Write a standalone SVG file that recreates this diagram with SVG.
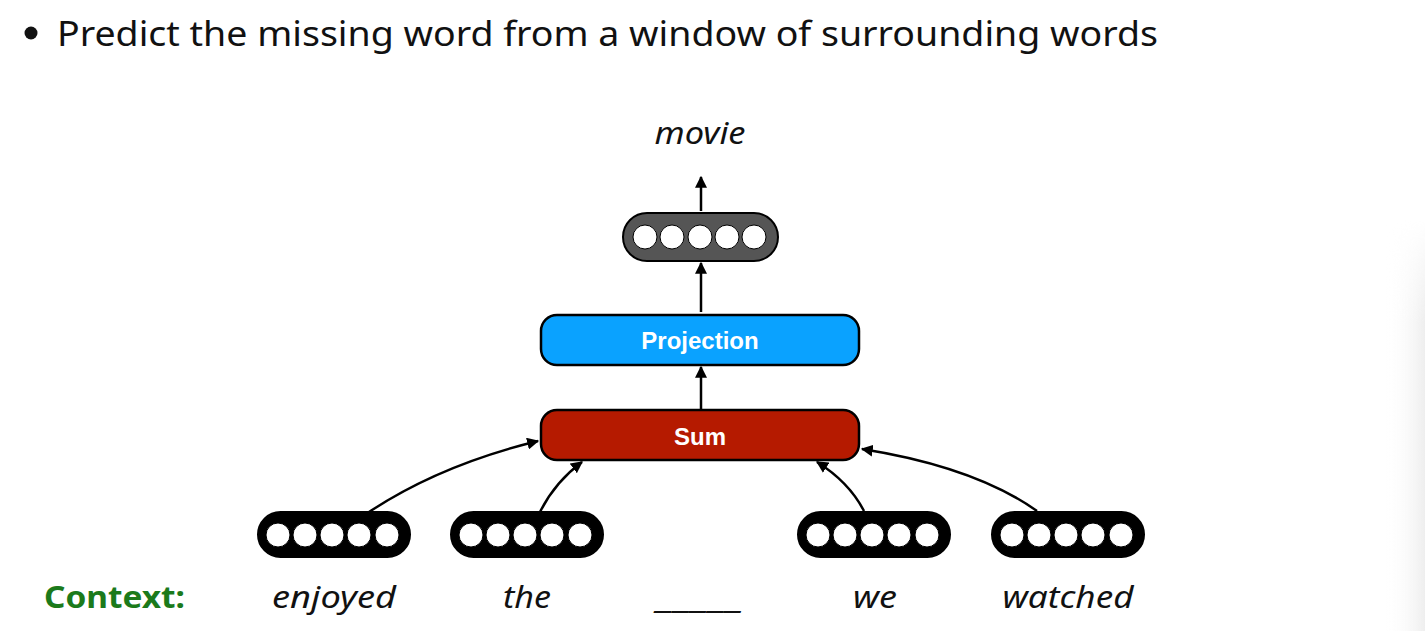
<svg xmlns="http://www.w3.org/2000/svg" width="1425" height="631" viewBox="0 0 1425 631">
<defs>
<marker id="ah" viewBox="0 0 10 10" refX="9" refY="5" markerWidth="12" markerHeight="12" markerUnits="userSpaceOnUse" orient="auto">
<path d="M0,0 L10,5 L0,10 z" fill="#000"/>
</marker>
<linearGradient id="edge" x1="0" y1="0" x2="1" y2="0">
<stop offset="0" stop-color="#fff" stop-opacity="0"/>
<stop offset="1" stop-color="#eeeeee"/>
</linearGradient>
<linearGradient id="fade" x1="0" y1="0" x2="0" y2="1">
<stop offset="0" stop-color="#fff" stop-opacity="0"/>
<stop offset="0.25" stop-color="#fff" stop-opacity="1"/>
</linearGradient>
<mask id="m"><rect x="1380" y="220" width="45" height="411" fill="url(#fade)"/></mask>
</defs>
<style>
.t{font-family:"Noto Sans",Lato,sans-serif;fill:#111}
.it{font-family:"Noto Sans",Lato,sans-serif;font-style:italic;font-size:30px;fill:#111;text-anchor:middle}
.box{stroke:#000;stroke-width:2.5}
.lbl{font-family:"Liberation Sans",Arial,sans-serif;font-weight:bold;font-size:24px;fill:#fff;text-anchor:middle}
.vec{stroke:#000;stroke-width:2}
.c{fill:#fff;stroke:#000;stroke-width:1}
.ar{fill:none;stroke:#000;stroke-width:2.5;marker-end:url(#ah)}
</style>
<rect width="1425" height="631" fill="#fff"/>
<rect x="1385" y="220" width="40" height="411" fill="url(#edge)" mask="url(#m)"/>
<g id="title">
<circle cx="31" cy="33" r="6.5" fill="#111"/>
<text class="t" x="57" y="46" font-size="35" textLength="1101" lengthAdjust="spacingAndGlyphs">Predict the missing word from a window of surrounding words</text>
</g>
<g id="output-word"><text class="it" x="700" y="144" textLength="91" lengthAdjust="spacingAndGlyphs">movie</text></g>
<g id="output-vector">
<rect class="vec" x="623" y="213" width="155" height="48" rx="24" fill="#555"/>
<circle class="c" cx="645" cy="237" r="12"/><circle class="c" cx="672" cy="237" r="12"/><circle class="c" cx="700" cy="237" r="12"/><circle class="c" cx="727" cy="237" r="12"/><circle class="c" cx="754" cy="237" r="12"/>
</g>
<g id="projection">
<rect class="box" x="541" y="315" width="318" height="50" rx="16" fill="#0aa2ff"/>
<text class="lbl" x="700" y="349">Projection</text>
</g>
<g id="sum">
<rect class="box" x="541" y="410" width="318" height="50" rx="16" fill="#b51a00"/>
<text class="lbl" x="700" y="445">Sum</text>
</g>
<g id="vec-enjoyed">
<rect class="vec" x="258" y="512" width="152" height="45" rx="22.5" fill="#000"/>
<circle class="c" cx="278" cy="535" r="12"/><circle class="c" cx="305" cy="535" r="12"/><circle class="c" cx="332" cy="535" r="12"/><circle class="c" cx="359" cy="535" r="12"/><circle class="c" cx="387" cy="535" r="12"/>
</g>
<g id="vec-the">
<rect class="vec" x="451" y="512" width="152" height="45" rx="22.5" fill="#000"/>
<circle class="c" cx="471" cy="535" r="12"/><circle class="c" cx="498" cy="535" r="12"/><circle class="c" cx="525" cy="535" r="12"/><circle class="c" cx="552" cy="535" r="12"/><circle class="c" cx="580" cy="535" r="12"/>
</g>
<g id="vec-we">
<rect class="vec" x="798" y="512" width="152" height="45" rx="22.5" fill="#000"/>
<circle class="c" cx="818" cy="535" r="12"/><circle class="c" cx="845" cy="535" r="12"/><circle class="c" cx="872" cy="535" r="12"/><circle class="c" cx="899" cy="535" r="12"/><circle class="c" cx="927" cy="535" r="12"/>
</g>
<g id="vec-watched">
<rect class="vec" x="992" y="512" width="152" height="45" rx="22.5" fill="#000"/>
<circle class="c" cx="1012" cy="535" r="12"/><circle class="c" cx="1039" cy="535" r="12"/><circle class="c" cx="1066" cy="535" r="12"/><circle class="c" cx="1093" cy="535" r="12"/><circle class="c" cx="1121" cy="535" r="12"/>
</g>
<g id="connectors">
<line class="ar" x1="701" y1="211" x2="701" y2="177"/>
<line class="ar" x1="701" y1="312" x2="701" y2="263"/>
<line class="ar" x1="701" y1="409" x2="701" y2="367"/>
<path class="ar" d="M369,512 Q440,465 538,441"/>
<path class="ar" d="M540,512 Q555,482 582,462"/>
<path class="ar" d="M864,511 Q849,482 817,462"/>
<path class="ar" d="M1037,511 Q975,467 862,449"/>
</g>
<g id="context">
<text x="44" y="608" font-family="'Noto Sans',Lato,sans-serif" font-weight="bold" font-size="30" fill="#1b7a1b" textLength="141" lengthAdjust="spacingAndGlyphs">Context:</text>
<text class="it" x="334" y="608" textLength="124" lengthAdjust="spacingAndGlyphs">enjoyed</text>
<text class="it" x="527" y="608" textLength="48" lengthAdjust="spacingAndGlyphs">the</text>
<text class="it" x="701" y="608" textLength="87" lengthAdjust="spacingAndGlyphs">_____</text>
<text class="it" x="875" y="608" textLength="44" lengthAdjust="spacingAndGlyphs">we</text>
<text class="it" x="1068" y="608" textLength="131" lengthAdjust="spacingAndGlyphs">watched</text>
</g>
</svg>
